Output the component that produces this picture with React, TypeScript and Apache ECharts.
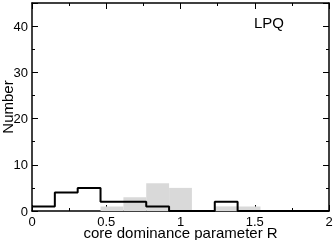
import React, { useEffect, useRef } from "react";
import * as echarts from "echarts";

const binEdges = [0, 0.1538, 0.3077, 0.4615, 0.6154, 0.7692, 0.9231, 1.0769, 1.2308, 1.3846, 1.5385, 1.6923, 1.8462, 2.0];
const lpqCounts = [1, 4, 5, 2, 2, 1, 0, 0, 2, 0, 0, 0, 0];
const grayCounts = [0, 0, 0, 1, 3, 6, 5, 0, 1, 1, 0, 0, 0];
const xTicks = [0, 0.5, 1, 1.5, 2];
const yTicks = [0, 10, 20, 30, 40];
const label = "LPQ";

export default function App() {
  const ref = useRef<HTMLDivElement>(null);
  useEffect(() => {
    const chart = echarts.init(ref.current!, null, { renderer: "svg" });
    const font = "Liberation Sans, Arial, sans-serif";
    const lineStyle = { color: "#000", width: 1.5 };
    const grayData = grayCounts.map((v, i) => [binEdges[i], binEdges[i + 1], v]);
    const stepData = binEdges.map((e, i) => [e, i < lpqCounts.length ? lpqCounts[i] : 0]);
    const yBase = { type: "value", min: 0, max: 45, splitLine: { show: false } };
    chart.setOption({
      animation: false,
      grid: { left: 32, right: 6, top: 3, bottom: 29, outerBoundsMode: "none", containLabel: false },
      xAxis: [
        {
          type: "value", min: 0, max: 2, interval: 0.5, position: "bottom",
          axisLine: { show: true, onZero: false, lineStyle },
          axisTick: { inside: true, length: 6, lineStyle: { color: "#000" } },
          minorTick: { show: true, splitNumber: 2, length: 3, lineStyle: { color: "#000" } },
          splitLine: { show: false },
          axisLabel: { color: "#000", fontSize: 13, fontFamily: font, margin: 4,
            formatter: (v: number) => (xTicks.includes(v) ? String(v) : "") },
          name: "core dominance parameter R", nameLocation: "middle", nameGap: 21, nameMoveOverlap: false,
          nameTextStyle: { color: "#000", fontSize: 15, fontFamily: font, verticalAlign: "middle" },
        },
        {
          type: "value", min: 0, max: 2, interval: 0.5, position: "top",
          axisLine: { show: true, onZero: false, lineStyle },
          axisTick: { inside: true, length: 6, lineStyle: { color: "#000" } },
          minorTick: { show: true, splitNumber: 2, length: 3, lineStyle: { color: "#000" } },
          splitLine: { show: false }, axisLabel: { show: false },
        },
      ],
      yAxis: [
        {
          ...yBase, position: "left", interval: 5,
          axisLine: { show: true, onZero: false, lineStyle },
          axisTick: { inside: true, length: 3, lineStyle: { color: "#000" } },
          axisLabel: { color: "#000", fontSize: 13, fontFamily: font, margin: 4,
            formatter: (v: number) => (yTicks.includes(v) ? String(v) : "") },
          name: "Number", nameLocation: "middle", nameGap: 25, nameRotate: 90, nameMoveOverlap: false,
          nameTextStyle: { color: "#000", fontSize: 15, fontFamily: font, verticalAlign: "middle" },
        },
        { ...yBase, position: "left", interval: 10, axisLine: { show: false, onZero: false },
          axisTick: { inside: true, length: 6, lineStyle: { color: "#000" } }, axisLabel: { show: false } },
        { ...yBase, position: "right", interval: 5, axisLine: { show: true, onZero: false, lineStyle },
          axisTick: { inside: true, length: 3, lineStyle: { color: "#000" } }, axisLabel: { show: false } },
        { ...yBase, position: "right", interval: 10, axisLine: { show: false, onZero: false },
          axisTick: { inside: true, length: 6, lineStyle: { color: "#000" } }, axisLabel: { show: false } },
      ],
      series: [
        {
          type: "custom", xAxisIndex: 0, yAxisIndex: 0, data: grayData, z: 1,
          renderItem: (params: any, api: any) => {
            const x0 = api.value(0), x1 = api.value(1), v = api.value(2);
            if (!v) return null;
            const p0 = api.coord([x0, v]);
            const p1 = api.coord([x1, 0]);
            return { type: "rect", shape: { x: p0[0], y: p0[1], width: p1[0] - p0[0], height: p1[1] - p0[1] },
              style: { fill: "#d9d9d9" } };
          },
        },
        {
          type: "line", xAxisIndex: 0, yAxisIndex: 0, data: stepData, step: "end", symbol: "none", z: 3,
          lineStyle: { color: "#000", width: 2 },
        },
      ],
      graphic: [
        { type: "text", left: 254, top: 15, style: { text: label, fontSize: 15, fontFamily: font, fill: "#000" } },
      ],
    });
    return () => chart.dispose();
  }, []);
  return <div ref={ref} style={{ position: "fixed", left: 0, top: 0, width: 335, height: 240 }} />;
}
